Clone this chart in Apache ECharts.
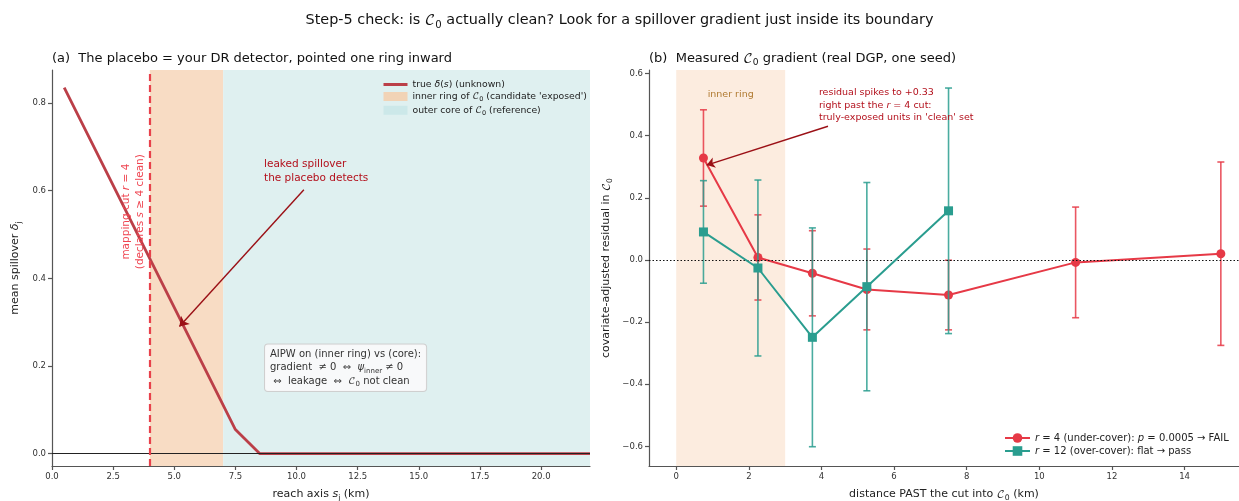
<!DOCTYPE html>
<html><head><meta charset="utf-8">
<script src="https://cdn.jsdelivr.net/npm/echarts@6/dist/echarts.min.js"></script>
<style>html,body{margin:0;padding:0;background:#fff}#c{width:1239px;height:501px}</style>
</head><body><div id="c"></div>
<script>
// ---------------- data ----------------
const leftXTicks = [0, 2.5, 5, 7.5, 10, 12.5, 15, 17.5, 20];
const leftYTicks = [0, 0.2, 0.4, 0.6, 0.8];
const rightXTicks = [0, 2, 4, 6, 8, 10, 12, 14];
const rightYTicks = [-0.6, -0.4, -0.2, 0, 0.2, 0.4, 0.6];

// panel (a): true spillover curve (kink points)
const reachS = [0.5, 7.5, 8.5, 22];
const trueDelta = [0.835, 0.055, 0.0, 0.0];
const cutR = 4;
const innerRing = [4, 7];
const outerCore = [7, 22];

// panel (b): measured residuals with +/- error
const distR4 = [0.75, 2.25, 3.75, 5.25, 7.5, 11, 15];
const resR4 = [0.328, 0.008, -0.043, -0.095, -0.113, -0.008, 0.020];
const errR4 = [0.155, 0.137, 0.137, 0.130, 0.112, 0.178, 0.295];
const distR12 = [0.75, 2.25, 3.75, 5.25, 7.5];
const resR12 = [0.090, -0.026, -0.249, -0.086, 0.158];
const errR12 = [0.165, 0.283, 0.352, 0.335, 0.395];
const innerRingB = [0, 3];

// ---------------- styling ----------------
const FF = '"DejaVu Sans", sans-serif';
const RED = '#e63946', TEAL = '#2a9d8f', CURVE = '#bb3f48';
const C0 = '{c|𝒞}{sub|0}';
function rich(fs, color) {
  const base = {fontSize: fs, color: color, fill: color, fontFamily: FF, fontWeight: 'normal', lineHeight: fs * 1.35};
  return {
    n: Object.assign({}, base),
    i: Object.assign({}, base, {fontStyle: 'italic'}),
    c: Object.assign({}, base, {fontFamily: '"DejaVu Math TeX Gyre", "DejaVu Sans", serif'}),
    sub: Object.assign({}, base, {fontSize: fs * 0.7, verticalAlign: 'bottom', lineHeight: fs * 0.9})
  };
}
const axisLineStyle = {color: '#555', width: 1.2};
function xAx(gi, min, max, ticks, fmt, name) {
  return {
    type: 'value', gridIndex: gi, min: min, max: max,
    axisLine: {show: true, onZero: false, lineStyle: axisLineStyle},
    axisTick: {show: true, inside: false, length: 4, lineStyle: axisLineStyle, customValues: ticks},
    axisLabel: {customValues: ticks, formatter: fmt, fontSize: 8.5, color: '#333', fontFamily: FF, margin: 6},
    splitLine: {show: false},
    name: name, nameLocation: 'middle', nameGap: 21,
    nameTextStyle: {rich: rich(11, '#222')}
  };
}
function yAx(gi, min, max, ticks, fmt, name, gap) {
  return {
    type: 'value', gridIndex: gi, min: min, max: max,
    axisLine: {show: true, onZero: false, lineStyle: axisLineStyle},
    axisTick: {show: true, inside: false, length: 4, lineStyle: axisLineStyle, customValues: ticks},
    axisLabel: {customValues: ticks, formatter: fmt, fontSize: 8.5, color: '#333', fontFamily: FF, margin: 6},
    splitLine: {show: false},
    name: name, nameLocation: 'middle', nameGap: gap, nameRotate: 90,
    nameTextStyle: {rich: rich(11, '#222')}
  };
}
function errRender(color) {
  return function (params, api) {
    const x = api.value(0), lo = api.value(1), hi = api.value(2);
    const p1 = api.coord([x, hi]), p2 = api.coord([x, lo]);
    const cap = 3.5;
    const st = {stroke: color, lineWidth: 1.6, opacity: 0.85};
    return {type: 'group', children: [
      {type: 'line', shape: {x1: p1[0], y1: p1[1], x2: p2[0], y2: p2[1]}, style: st},
      {type: 'line', shape: {x1: p1[0] - cap, y1: p1[1], x2: p1[0] + cap, y2: p1[1]}, style: st},
      {type: 'line', shape: {x1: p2[0] - cap, y1: p2[1], x2: p2[0] + cap, y2: p2[1]}, style: st}
    ]};
  };
}
const zip = (a, b) => a.map((v, k) => [v, b[k]]);
const errData = (xs, ys, es) => xs.map((v, k) => [v, ys[k] - es[k], ys[k] + es[k]]);

const NAME_CURVE = 'true δ(s) (unknown)';
const NAME_INNER = "inner ring of C0 (candidate 'exposed')";
const NAME_OUTER = 'outer core of C0 (reference)';
const NAME_R4 = 'r = 4 (under-cover): p = 0.0005 → FAIL';
const NAME_R12 = 'r = 12 (over-cover): flat → pass';
const legendFmt = {};
legendFmt[NAME_CURVE] = '{n|true }{i|δ}{n|(}{i|s}{n|) (unknown)}';
legendFmt[NAME_INNER] = '{n|inner ring of }' + C0 + "{n| (candidate 'exposed')}";
legendFmt[NAME_OUTER] = '{n|outer core of }' + C0 + '{n| (reference)}';
legendFmt[NAME_R4] = '{i|r}{n| = 4 (under-cover): }{i|p}{n| = 0.0005 → FAIL}';
legendFmt[NAME_R12] = '{i|r}{n| = 12 (over-cover): flat → pass}';

const chart = echarts.init(document.getElementById('c'), null, {renderer: 'canvas'});
const option = {
  animation: false,
  backgroundColor: '#fff',
  title: [
    {text: '{n|Step-5 check: is }' + C0 + '{n| actually clean? Look for a spillover gradient just inside its boundary}',
     left: 'center', top: 6, textStyle: {fontWeight: 'normal', rich: rich(14.4, '#111')}},
    {text: '{n|(a)  The placebo = your DR detector, pointed one ring inward}',
     left: 47, top: 45, textStyle: {fontWeight: 'normal', rich: rich(13, '#111')}},
    {text: '{n|(b)  Measured }' + C0 + '{n| gradient (real DGP, one seed)}',
     left: 644, top: 45, textStyle: {fontWeight: 'normal', rich: rich(13, '#111')}}
  ],
  grid: [
    {left: 52, top: 70, width: 538, height: 396, containLabel: false, outerBoundsMode: 'none'},
    {left: 649, top: 70, width: 590, height: 396, containLabel: false, outerBoundsMode: 'none'}
  ],
  xAxis: [
    xAx(0, 0, 22, leftXTicks, v => v.toFixed(1), '{n|reach axis }{i|s}{sub|j}{n| (km)}'),
    xAx(1, -0.75, 15.5, rightXTicks, v => String(v), '{n|distance PAST the cut into }' + C0 + '{n| (km)}')
  ],
  yAxis: [
    yAx(0, -0.028, 0.875, leftYTicks, v => v.toFixed(1), '{n|mean spillover }{i|δ}{sub|j}', 29),
    yAx(1, -0.663, 0.611, rightYTicks, v => v.toFixed(1).replace('-', '−'), '{n|covariate-adjusted residual in }' + C0, 35)
  ],
  legend: [
    {
      data: [{name: NAME_CURVE, itemStyle: {color: 'rgba(0,0,0,0)', borderWidth: 0, opacity: 0}, lineStyle: {width: 3}},
             {name: NAME_INNER, icon: 'rect'}, {name: NAME_OUTER, icon: 'rect'}],
      orient: 'vertical', left: 377, top: 75, itemWidth: 24, itemHeight: 9, itemGap: 3,
      formatter: n => legendFmt[n], textStyle: {rich: rich(9.3, '#222')}, selectedMode: false
    },
    {
      data: [NAME_R4, NAME_R12],
      orient: 'vertical', left: 999, top: 428, itemWidth: 25, itemHeight: 12, itemGap: 3,
      formatter: n => legendFmt[n], textStyle: {rich: rich(10, '#222')}, selectedMode: false
    }
  ],
  series: [
    // bands (panel a)
    {name: NAME_INNER, type: 'line', xAxisIndex: 0, yAxisIndex: 0, data: [], z: 1,
     itemStyle: {color: '#f1d3b6'}, lineStyle: {color: '#f1d3b6'},
     markArea: {silent: true, itemStyle: {color: '#f8dcc4'}, data: [[{xAxis: innerRing[0]}, {xAxis: innerRing[1]}]]}},
    {name: NAME_OUTER, type: 'line', xAxisIndex: 0, yAxisIndex: 0, data: [], z: 1,
     itemStyle: {color: '#cce8e9'}, lineStyle: {color: '#cce8e9'},
     markArea: {silent: true, itemStyle: {color: '#dff0f0'}, data: [[{xAxis: outerCore[0]}, {xAxis: outerCore[1]}]]}},
    // zero line + cut + arrow (panel a)
    {type: 'line', xAxisIndex: 0, yAxisIndex: 0, data: [], z: 2,
     markLine: {silent: true, symbol: 'none', label: {show: false}, animation: false, data: [
       {yAxis: 0, lineStyle: {color: '#222', width: 1, type: 'solid'}},
       {xAxis: cutR, lineStyle: {color: '#e8414b', width: 2.2, type: [7, 4]}},
       [{coord: [10.3, 0.602], symbol: 'none', lineStyle: {color: '#9b1016', width: 1.4, type: 'solid'}},
        {coord: [5.21, 0.29], symbol: 'arrow', symbolSize: 9}]
     ]}},
    // true curve
    {name: NAME_CURVE, type: 'line', xAxisIndex: 0, yAxisIndex: 0, data: zip(reachS, trueDelta), z: 3,
     showSymbol: false, symbol: 'none', lineStyle: {color: CURVE, width: 2.8}, itemStyle: {color: CURVE}},
    // panel b band + zero line + arrow
    {type: 'line', xAxisIndex: 1, yAxisIndex: 1, data: [], z: 1,
     markArea: {silent: true, itemStyle: {color: '#fcecdf'}, data: [[{xAxis: innerRingB[0]}, {xAxis: innerRingB[1]}]]},
     markLine: {silent: true, symbol: 'none', label: {show: false}, animation: false, data: [
       {yAxis: 0, lineStyle: {color: '#111', width: 1.2, type: [1.5, 2]}},
       [{coord: [4.18, 0.43], symbol: 'none', lineStyle: {color: '#9b1016', width: 1.4, type: 'solid'}},
        {coord: [0.84, 0.305], symbol: 'arrow', symbolSize: 8}]
     ]}},
    // error bars
    {type: 'custom', xAxisIndex: 1, yAxisIndex: 1, z: 2, renderItem: errRender(RED),
     encode: {x: 0, y: [1, 2]}, data: errData(distR4, resR4, errR4)},
    {type: 'custom', xAxisIndex: 1, yAxisIndex: 1, z: 4, renderItem: errRender(TEAL),
     encode: {x: 0, y: [1, 2]}, data: errData(distR12, resR12, errR12)},
    // lines with markers
    {name: NAME_R4, type: 'line', xAxisIndex: 1, yAxisIndex: 1, z: 3, data: zip(distR4, resR4),
     symbol: 'circle', symbolSize: 9, showSymbol: true,
     lineStyle: {color: RED, width: 2}, itemStyle: {color: RED}},
    {name: NAME_R12, type: 'line', xAxisIndex: 1, yAxisIndex: 1, z: 5, data: zip(distR12, resR12),
     symbol: 'rect', symbolSize: 9, showSymbol: true,
     lineStyle: {color: TEAL, width: 2}, itemStyle: {color: TEAL}}
  ]
};
chart.setOption(option);

// ---------------- annotations (placed from data coordinates) ----------------
function px(gi, pt) { return chart.convertToPixel({gridIndex: gi}, pt); }
const pCut = px(0, [3.33, 0.552]);
const pLeak = px(0, [8.67, 0.645]);
const pBox = px(0, [8.71, 0.249]);
const pRing = px(1, [1.5, 0.533]);
const pSpike = px(1, [3.93, 0.56]);

chart.setOption({graphic: [
  {type: 'text', x: pCut[0], y: pCut[1], rotation: Math.PI / 2, z: 10,
   style: {text: '{n|mapping cut }{i|r}{n| = 4}\n{n|(declares }{i|s}{n| ≥ 4 clean)}', align: 'center', verticalAlign: 'middle',
     fill: '#ef4652', rich: rich(10.5, '#ef4652')}},
  {type: 'text', x: pLeak[0], y: pLeak[1], z: 10,
   style: {text: '{n|leaked spillover}\n{n|the placebo detects}', align: 'left', verticalAlign: 'middle',
     fill: '#b3101c', rich: rich(10.5, '#b3101c')}},
  {type: 'text', x: pBox[0], y: pBox[1], z: 10,
   style: {text: '{n|AIPW on (inner ring) vs (core):}\n{n|gradient  ≠ 0  ⇔  }{i|ψ}{sub|inner}{n| ≠ 0}\n{n| ⇔  leakage  ⇔  }' + C0 + '{n| not clean}',
     align: 'left', verticalAlign: 'top', fill: '#333', rich: rich(10, '#333'),
     backgroundColor: 'rgba(250,250,251,0.92)', borderColor: '#cfcfcf', borderWidth: 1, borderRadius: 3, padding: [3, 5, 3, 5]}},
  {type: 'text', x: pRing[0], y: pRing[1], z: 10,
   style: {text: '{n|inner ring}', align: 'center', verticalAlign: 'middle', fill: '#b07a30', rich: rich(9.5, '#b07a30')}},
  {type: 'text', x: pSpike[0], y: pSpike[1], z: 10,
   style: {text: '{n|residual spikes to +0.33}\n{n|right past the }{i|r}{n| = 4 cut:}\n{n|truly-exposed units in \'clean\' set}',
     align: 'left', verticalAlign: 'top', fill: '#b3101c', rich: rich(9.5, '#b3101c')}}
]});
</script>
</body></html>
